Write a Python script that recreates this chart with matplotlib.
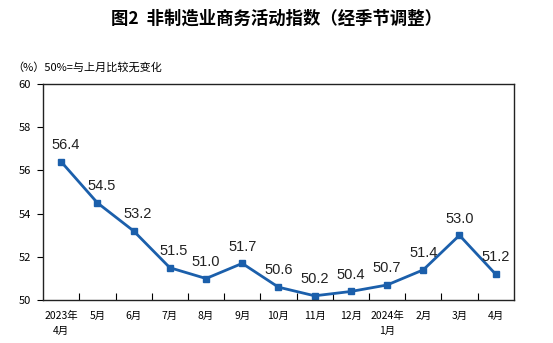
import matplotlib
matplotlib.use("Agg")
import matplotlib.pyplot as plt
import numpy as np

plt.rcParams['font.family'] = ['Noto Sans CJK SC', 'DejaVu Sans']

months = ['2023年\n4月', '5月', '6月', '7月', '8月', '9月', '10月', '11月',
          '12月', '2024年\n1月', '2月', '3月', '4月']
index_vals = [56.4, 54.5, 53.2, 51.5, 51.0, 51.7, 50.6, 50.2, 50.4, 50.7, 51.4, 53.0, 51.2]
y_ticks = [50, 52, 54, 56, 58, 60]

line_color = '#1b5fab'

fig = plt.figure(figsize=(5.53, 3.43), dpi=100)
ax = fig.add_axes([0.078, 0.125, 0.851, 0.63])

x = np.arange(len(months))
ax.plot(x, index_vals, color=line_color, lw=2.0, marker='s', ms=4.5)

# data labels above each point
for xi, v in zip(x, index_vals):
    dx = 3 if xi < 4 else 0
    ax.annotate(f'{v:.1f}', (xi, v), xytext=(dx, 7), textcoords='offset points',
                ha='center', va='bottom', fontsize=10.5, color='#222222',
                family=['Liberation Sans', 'DejaVu Sans'])

ax.set_xlim(-0.5, len(months) - 0.5)
ax.set_ylim(50, 60)
ax.set_yticks(y_ticks)
ax.set_yticklabels([str(t) for t in y_ticks], fontsize=8)
ax.set_xticks(x)
ax.set_xticklabels(months, fontsize=7.5, linespacing=1.6)
ax.tick_params(axis='x', which='major', length=0, pad=8)
ax.set_xticks(np.arange(0.5, len(months) - 0.5, 1), minor=True)
ax.tick_params(axis='x', which='minor', direction='in', length=5, width=0.8)
ax.tick_params(axis='y', direction='out', length=4, width=0.8, pad=5)

for sp in ax.spines.values():
    sp.set_linewidth(1.0)
    sp.set_color('#222222')

fig.text(0.5, 0.945, '图2  非制造业商务活动指数（经季节调整）', ha='center', va='center',
         fontsize=12.5, fontweight='bold')
fig.text(0.022, 0.805, '（%）50%=与上月比较无变化', ha='left', va='center', fontsize=8)

fig.savefig('out.png', dpi=100)
